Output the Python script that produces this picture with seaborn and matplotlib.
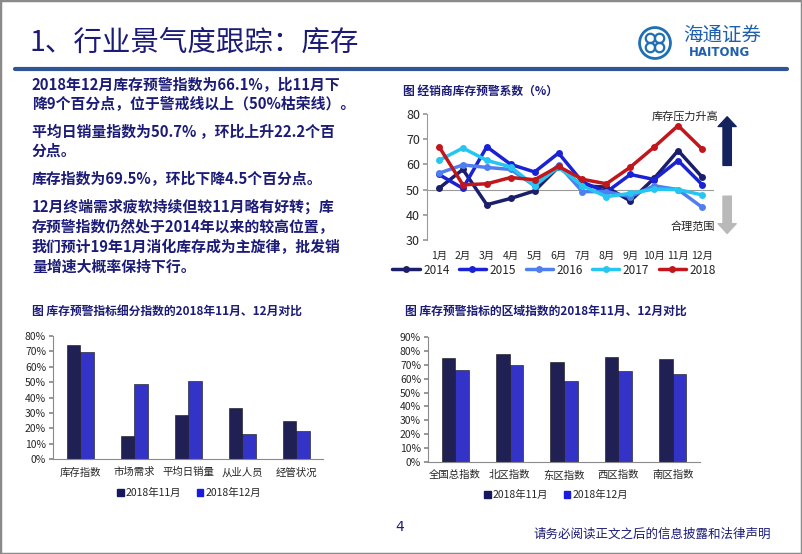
import numpy as np
import pandas as pd
import matplotlib
matplotlib.use("Agg")
import matplotlib.pyplot as plt
import matplotlib.patches as mpatches
from matplotlib.lines import Line2D
import seaborn as sns

# ---- data ----
months = ["1月", "2月", "3月", "4月", "5月", "6月", "7月", "8月", "9月", "10月", "11月", "12月"]
years = ["2014", "2015", "2016", "2017", "2018"]
inv_2014 = [50.5, 58.0, 44.0, 46.5, 49.5, 59.0, 51.5, 51.0, 45.5, 54.5, 65.5, 55.0]
inv_2015 = [56.0, 50.5, 67.0, 60.0, 57.0, 64.5, 53.0, 49.0, 56.0, 54.0, 61.5, 52.0]
inv_2016 = [56.5, 59.8, 58.8, 58.0, 51.5, 59.8, 49.2, 49.2, 47.2, 51.5, 50.0, 43.0]
inv_2017 = [61.6, 66.5, 61.6, 59.0, 51.5, 59.0, 51.5, 47.2, 48.5, 50.2, 50.0, 47.9]
inv_2018 = [67.1, 51.9, 52.3, 54.8, 53.9, 59.2, 54.1, 52.3, 58.9, 66.9, 75.4, 66.1]

sub_cats = ["库存指数", "市场需求", "平均日销量", "从业人员", "经管状况"]
sub_nov = [74.0, 15.0, 28.5, 33.0, 24.5]
sub_dec = [69.5, 48.5, 50.7, 16.5, 18.5]

reg_cats = ["全国总指数", "北区指数", "东区指数", "西区指数", "南区指数"]
reg_nov = [75.0, 77.5, 72.0, 75.5, 74.0]
reg_dec = [66.1, 69.5, 58.0, 65.5, 63.5]

bar_labels = ["2018年11月", "2018年12月"]

text_lines = [
    "2018年12月库存预警指数为66.1%，比11月下",
    "降9个百分点，位于警戒线以上（50%枯荣线）。",
    "平均日销量指数为50.7% ，环比上升22.2个百",
    "分点。",
    "库存指数为69.5%，环比下降4.5个百分点。",
    "12月终端需求疲软持续但较11月略有好转；库",
    "存预警指数仍然处于2014年以来的较高位置，",
    "我们预计19年1月消化库存成为主旋律，批发销",
    "量增速大概率保持下行。",
]

sns.set_theme(style="white")
plt.rcParams["font.family"] = ["Noto Sans CJK SC", "DejaVu Sans"]

W, H = 802, 554
NAVY = "#1c1c78"
line_colors = {"2014": "#1b1f6b", "2015": "#1a22d6", "2016": "#4f7fef",
               "2017": "#26c6f2", "2018": "#c0161c"}
bar_colors = ["#17175e", "#1a1ae0"]


def fx(x):
    return x / W


def fy(y):
    return 1 - y / H


def box(x0, y0, x1, y1):
    return [fx(x0), fy(y1), (x1 - x0) / W, (y1 - y0) / H]


fig = plt.figure(figsize=(W / 100, H / 100), dpi=100)
fig.patch.set_facecolor("white")

# frame + header
fig.patches.append(mpatches.Rectangle((0, 0), 1, 1, transform=fig.transFigure,
                                      fill=False, edgecolor="#8a8a8a", linewidth=2.5))
fig.add_artist(Line2D([fx(15), fx(787)], [fy(69), fy(69)], color="#2f5597", linewidth=3))
fig.text(fx(30), fy(43), "1、行业景气度跟踪：库存", fontsize=20.5, color=NAVY, va="center")

# logo
lax = fig.add_axes(box(638, 26, 672, 60))
lax.set_aspect("equal")
lax.axis("off")
lax.add_patch(mpatches.Circle((0, 0), 1.0, fill=False, edgecolor="#1f6fb5", linewidth=2))
for ang in [45, 135, 225, 315]:
    a = np.deg2rad(ang)
    lax.add_patch(mpatches.Circle((0.42 * np.cos(a), 0.42 * np.sin(a)), 0.3, fill=False,
                                  edgecolor="#1f6fb5", linewidth=1.6))
lax.set_xlim(-1.1, 1.1)
lax.set_ylim(-1.1, 1.1)
fig.text(fx(722), fy(35), "海通证券", fontsize=14, color="#1f5fb0", ha="center", va="center",
         style="italic")
fig.text(fx(719), fy(53), "HAITONG", fontsize=8.5, color="#1f5fb0", ha="center", va="center",
         fontweight="bold", family=["DejaVu Sans"])

# left text block
line_y = [85, 104, 132, 151, 179, 207, 227, 247, 267]
for s, y in zip(text_lines, line_y):
    fig.text(fx(32), fy(y), s, fontsize=10.7, color=NAVY, fontweight="bold", va="center")

# ---- line chart ----
fig.text(fx(403), fy(91), "图 经销商库存预警系数（%）", fontsize=8.5, color=NAVY,
         fontweight="bold", va="center")
line_df = pd.DataFrame({
    "month": list(range(12)) * 5,
    "value": inv_2014 + inv_2015 + inv_2016 + inv_2017 + inv_2018,
    "year": [y for y in years for _ in range(12)],
})
ax1 = fig.add_axes(box(427, 114, 714, 240))
sns.lineplot(data=line_df, x="month", y="value", hue="year", palette=line_colors,
             marker="o", markersize=5, markeredgewidth=0, linewidth=2.5, ax=ax1,
             legend=False)
ax1.axhline(50, color="#9a9a9a", linewidth=0.8, zorder=0)
ax1.set_xlim(-0.5, 11.5)
ax1.set_ylim(30, 80)
ax1.set_yticks([30, 40, 50, 60, 70, 80])
ax1.set_xticks(range(12))
ax1.set_xticklabels(months)
ax1.set_xlabel("")
ax1.set_ylabel("")
for sp in ["top", "right", "bottom"]:
    ax1.spines[sp].set_visible(False)
ax1.spines["left"].set_color("#9a9a9a")
ax1.spines["left"].set_linewidth(0.8)
ax1.tick_params(axis="y", left=True, length=3, color="#9a9a9a", labelsize=9, pad=2)
ax1.tick_params(axis="x", length=0, labelsize=7.5, pad=8)
ax1.annotate("", xy=(12.05, 80), xytext=(12.05, 58.5), annotation_clip=False,
             arrowprops=dict(arrowstyle="simple,head_width=1.3,head_length=0.7,tail_width=0.6",
                             color="#14235e", mutation_scale=10))
ax1.annotate("", xy=(12.05, 31.5), xytext=(12.05, 48.5), annotation_clip=False,
             arrowprops=dict(arrowstyle="simple,head_width=1.3,head_length=0.7,tail_width=0.6",
                             color="#b9b9b9", mutation_scale=10))
fig.text(fx(685), fy(116), "库存压力升高", fontsize=8, color="#222222", ha="center", va="center")
fig.text(fx(693), fy(227), "合理范围", fontsize=8, color="#222222", ha="center", va="center")
handles = [Line2D([], [], color=line_colors[y], linewidth=2.5, marker="o", markersize=5,
                  markeredgewidth=0) for y in years]
fig.legend(handles, years, loc="center", bbox_to_anchor=(fx(554), fy(270)), ncol=5,
           frameon=False, fontsize=8.5, handlelength=2.3, columnspacing=0.8, handletextpad=0.3)


# ---- bar charts ----
def bar_chart(rect, cats, nov, dec, ymax, title, title_xy, legend_xy):
    fig.text(fx(title_xy[0]), fy(title_xy[1]), title, fontsize=8.5, color=NAVY,
             fontweight="bold", va="center")
    df = pd.DataFrame({"cat": cats * 2, "val": nov + dec,
                       "month": [bar_labels[0]] * len(cats) + [bar_labels[1]] * len(cats)})
    ax = fig.add_axes(rect)
    sns.barplot(data=df, x="cat", y="val", hue="month", palette=bar_colors, width=0.5,
                edgecolor="#111111", linewidth=0.4, gap=0, ax=ax, legend=False)
    ax.set_ylim(0, ymax)
    ticks = list(range(0, ymax + 1, 10))
    ax.set_yticks(ticks)
    ax.set_yticklabels([f"{t}%" for t in ticks])
    ax.set_xlim(-0.5, len(cats) - 0.5)
    ax.set_xlabel("")
    ax.set_ylabel("")
    for sp in ["top", "right"]:
        ax.spines[sp].set_visible(False)
    for sp in ["left", "bottom"]:
        ax.spines[sp].set_color("#8a8a8a")
        ax.spines[sp].set_linewidth(0.8)
    ax.tick_params(axis="y", left=True, length=3, color="#8a8a8a", labelsize=7.5, pad=2)
    ax.tick_params(axis="x", length=0, labelsize=7.5, pad=6)
    hs = [mpatches.Patch(color=c) for c in bar_colors]
    fig.legend(hs, bar_labels, loc="center", bbox_to_anchor=(fx(legend_xy[0]), fy(legend_xy[1])),
               ncol=2, frameon=False, fontsize=7.5, handlelength=0.6, handleheight=0.6,
               handletextpad=0.2, columnspacing=1.5)
    return ax


bar_chart(box(53, 336, 323, 459), sub_cats, sub_nov, sub_dec, 80,
          "图 库存预警指标细分指数的2018年11月、12月对比", (32, 311), (189, 493))
bar_chart(box(428, 337, 700, 462), reg_cats, reg_nov, reg_dec, 90,
          "图 库存预警指标的区域指数的2018年11月、12月对比", (405, 311), (556, 495))

# footer
fig.text(fx(400), fy(527), "4", fontsize=10, color=NAVY, ha="center", va="center",
         family=["DejaVu Sans"])
fig.text(fx(652), fy(534), "请务必阅读正文之后的信息披露和法律声明", fontsize=9, color=NAVY,
         ha="center", va="center")

fig.savefig("out.png", dpi=100, facecolor="white")
